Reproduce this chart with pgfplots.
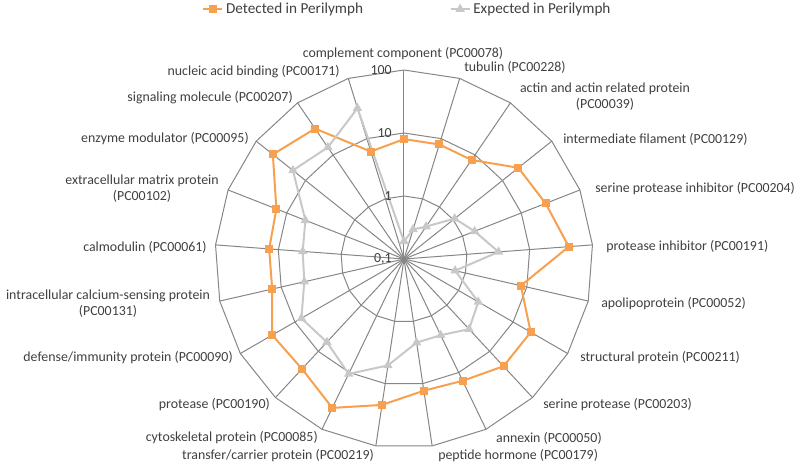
\documentclass[border=0pt]{standalone}
\usepackage{pgfplots}
\pgfplotsset{compat=1.18}
\usepgfplotslibrary{polar}
\usepackage{fontspec}
\setmainfont{Carlito}

\definecolor{detected}{RGB}{247,160,80}
\definecolor{expected}{RGB}{200,200,200}
\definecolor{gridc}{RGB}{134,134,134}
\definecolor{txt}{RGB}{64,64,64}

% categories 0..20 run clockwise from the top; 21 repeats 0 to close the line
\pgfplotstableread{
k  det   exp
0  8.0   0.19
1  8.0   0.31
2  8.0   0.42
3  21    1.07
4  26    1.6
5  42    3.2
6  8.0   0.68
7  21    2.3
8  21    3.3
9  14    2.2
10 13    2.2
11 22    5.1
12 42    10.6
13 24    6.3
14 26    7.6
15 14    4.2
16 14    4.1
17 15    4.8
18 46    18
19 32    14
20 6.1   32
21 8.0   0.19
}\radar

\begin{document}
\begin{tikzpicture}[font=\fontsize{10.4}{12.2}\selectfont, text=txt]
\useasboundingbox (-303pt,194.25pt) rectangle (297pt,-154.5pt);
\begin{polaraxis}[
  at={(0,0)}, anchor=center,
  width=283.5pt, height=283.5pt, scale only axis,
  xmin=0, xmax=360, ymin=0, ymax=3,
  x filter/.expression={mod(450-x*360/21,360)},
  y filter/.expression={ln(y)/ln(10)+1},
  xtick=\empty, ytick=\empty,
  axis line style={draw=none},
  clip=false,
  legend columns=2,
  legend image code/.code={\draw[mark repeat=2,mark phase=2]
    plot coordinates {(0cm,0cm)(0.25cm,0cm)(0.5cm,0cm)};},
  legend style={at={(0.51,1.161)}, anchor=center, draw=none, fill=none,
    font=\fontsize{11.4}{13.5}\selectfont,
    /tikz/every even column/.append style={column sep=63pt}},
]
% spokes
\pgfplotsinvokeforeach{0,...,20}{
  \addplot[gridc, line width=0.75pt, no markers, forget plot] coordinates {(#1,0.1) (#1,100)};
}
% polygon rings at 1, 10 and 100
\addplot[gridc, line width=0.75pt, no markers, forget plot] coordinates {
(0,1)(1,1)(2,1)(3,1)(4,1)(5,1)(6,1)(7,1)(8,1)(9,1)(10,1)(11,1)(12,1)(13,1)(14,1)(15,1)(16,1)(17,1)(18,1)(19,1)(20,1)(21,1)};
\addplot[gridc, line width=0.75pt, no markers, forget plot] coordinates {
(0,10)(1,10)(2,10)(3,10)(4,10)(5,10)(6,10)(7,10)(8,10)(9,10)(10,10)(11,10)(12,10)(13,10)(14,10)(15,10)(16,10)(17,10)(18,10)(19,10)(20,10)(21,10)};
\addplot[gridc, line width=0.75pt, no markers, forget plot] coordinates {
(0,100)(1,100)(2,100)(3,100)(4,100)(5,100)(6,100)(7,100)(8,100)(9,100)(10,100)(11,100)(12,100)(13,100)(14,100)(15,100)(16,100)(17,100)(18,100)(19,100)(20,100)(21,100)};

\addplot[detected, line width=1.5pt, mark=square*, mark size=2.25pt] table[x=k, y=det] {\radar};
\addlegendentry{Detected in Perilymph}
\addplot[expected, line width=1.5pt, mark=triangle*, mark size=2.6pt] table[x=k, y=exp] {\radar};
\addlegendentry{Expected in Perilymph}

\node[anchor=east, inner sep=0pt, xshift=-9pt] at (axis cs:90,0) {0,1};
\node[anchor=east, inner sep=0pt, xshift=-9pt] at (axis cs:90,1) {1};
\node[anchor=east, inner sep=0pt, xshift=-9pt] at (axis cs:90,2) {10};
\node[anchor=east, inner sep=0pt, xshift=-9pt] at (axis cs:90,3) {100};
\end{polaraxis}

% category labels, placed in pixel units of the 800x465 frame
\begin{scope}[shift={(-303pt,194.25pt)}, x=0.75pt, y=-0.75pt, every node/.style={inner sep=0pt}]
\node[anchor=center] at (403,54) {complement component (PC00078)};
\node[anchor=west] at (464,67) {tubulin (PC00228)};
\node[anchor=center, align=center] at (605,97) {actin and actin related protein\\(PC00039)};
\node[anchor=west] at (563,139) {intermediate filament (PC00129)};
\node[anchor=west] at (595,189) {serine protease inhibitor (PC00204)};
\node[anchor=west] at (606,247) {protease inhibitor (PC00191)};
\node[anchor=west] at (601,304) {apolipoprotein (PC00052)};
\node[anchor=west] at (580,358) {structural protein (PC00211)};
\node[anchor=west] at (543,405) {serine protease (PC00203)};
\node[anchor=east] at (602,438) {annexin (PC00050)};
\node[anchor=west] at (438,456) {peptide hormone (PC00179)};
\node[anchor=east] at (374,456) {transfer/carrier protein (PC00219)};
\node[anchor=east] at (318,438) {cytoskeletal protein (PC00085)};
\node[anchor=east] at (270,405) {protease (PC00190)};
\node[anchor=east] at (233,358) {defense/immunity protein (PC00090)};
\node[anchor=center, align=center] at (108,304) {intracellular calcium-sensing protein\\(PC00131)};
\node[anchor=east] at (207,247) {calmodulin (PC00061)};
\node[anchor=center, align=center] at (142,189) {extracellular matrix protein\\(PC00102)};
\node[anchor=east] at (249,139) {enzyme modulator (PC00095)};
\node[anchor=east] at (293,98) {signaling molecule (PC00207)};
\node[anchor=east] at (340,72) {nucleic acid binding (PC00171)};
\end{scope}
\end{tikzpicture}
\end{document}
